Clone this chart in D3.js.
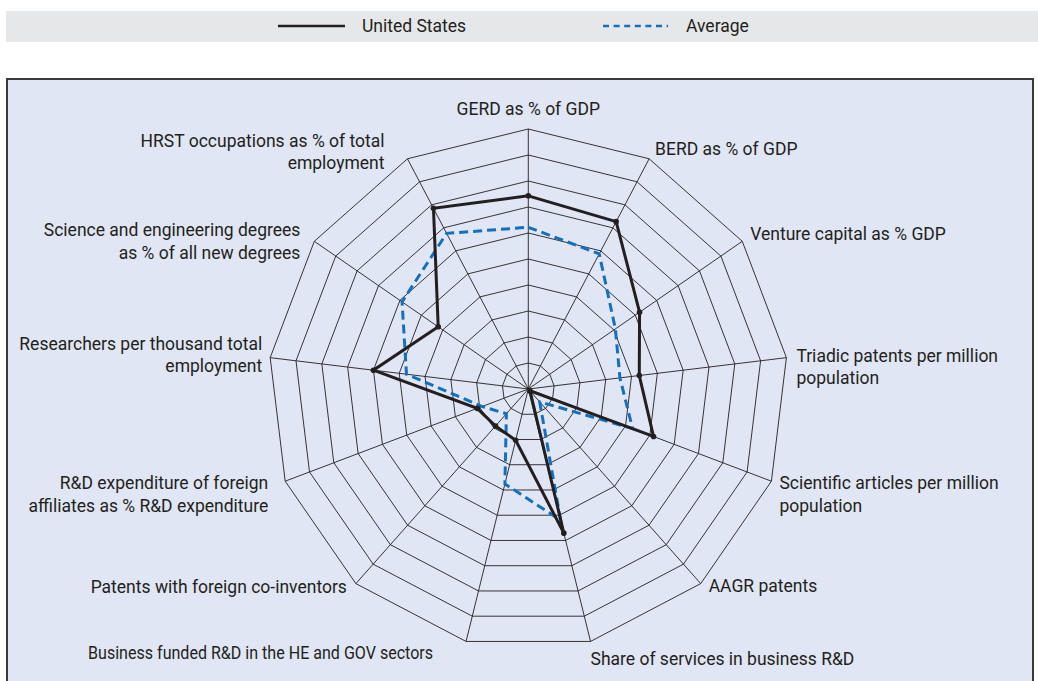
<!DOCTYPE html>
<html>
<head>
<meta charset="utf-8">
<script src="https://cdn.jsdelivr.net/npm/d3@7"></script>
<style>
  body { margin: 0; background: #fff; }
  svg { display: block; }
  text { font-family: Roboto, "Liberation Sans", sans-serif; fill: #231f20; }
</style>
</head>
<body>
<div id="chart"></div>
<script>
// indicator names, one entry per spoke (clockwise from top), split into lines
var indicators = [
    ["GERD as % of GDP"],
    ["BERD as % of GDP"],
    ["Venture capital as % GDP"],
    ["Triadic patents per million", "population"],
    ["Scientific articles per million", "population"],
    ["AAGR patents"],
    ["Share of services in business R&D"],
    ["Business funded R&D in the HE and GOV sectors"],
    ["Patents with foreign co-inventors"],
    ["R&D expenditure of foreign", "affiliates as % R&D expenditure"],
    ["Researchers per thousand total", "employment"],
    ["Science and engineering degrees", "as % of all new degrees"],
    ["HRST occupations as % of total", "employment"]
];
var seriesNames = ["United States", "Average"];
var unitedStates = [7.43, 7.27, 5.2, 4.3, 5.15, 0.1, 5.71, 2.03, 1.9, 2.1, 6.0, 4.21, 7.85];
var average = [6.22, 5.87, 4.07, 3.55, 4.29, 0.66, 5.2, 3.76, 1.27, 1.9, 4.72, 5.9, 6.76];
var ringLevels = [1, 2, 3, 4, 5, 6, 7, 8, 9, 10];

// layout: nudge of each label's first line from the outer vertex [dx, dy, anchor]
var labelNudge = [
    [0, -20, "middle"], [6, -10, "start"], [8, -7, "start"], [10, -2, "start"],
    [8, 2, "start"], [8, 2, "start"], [0, 17, "start"], [-33, 11, "end"],
    [-9, 3, "end"], [-17, 2, "end"], [-8, -14, "end"], [-14, -11, "end"],
    [-23, -18, "end"]
];

var width = 1038, height = 681;
var cx = 528.3, cy = 389, radius = 260;
var ink = "#231f20", blue = "#1470bd";

var svg = d3.select("#chart")
    .append("svg")
    .attr("width", width)
    .attr("height", height);

// legend band
svg.append("rect")
    .attr("x", 6).attr("y", 11)
    .attr("width", width - 6).attr("height", 31)
    .attr("fill", "#e6e7e8");

var legend = svg.append("g").attr("transform", "translate(0,26)");
legend.append("line")
    .attr("x1", 278).attr("x2", 345)
    .attr("stroke", ink).attr("stroke-width", 2.6);
legend.append("text")
    .attr("x", 362).attr("dy", "0.35em")
    .style("font-size", "17.5px")
    .text(seriesNames[0]);
legend.append("line")
    .attr("x1", 603).attr("x2", 668)
    .attr("stroke", blue).attr("stroke-width", 2.6)
    .attr("stroke-dasharray", "6,4.6");
legend.append("text")
    .attr("x", 686).attr("dy", "0.35em")
    .style("font-size", "17.5px")
    .text(seriesNames[1]);

// chart frame
svg.append("rect")
    .attr("x", 7).attr("y", 79)
    .attr("width", 1026).attr("height", 610)
    .attr("fill", "#e0e6f4")
    .attr("stroke", "#3a3a3a")
    .attr("stroke-width", 2);

var angle = d3.scaleLinear()
    .domain([0, indicators.length])
    .range([0, 2 * Math.PI]);
var r = d3.scaleLinear()
    .domain([0, 10])
    .range([0, radius]);

var g = svg.append("g").attr("transform", `translate(${cx},${cy})`);

var radar = d3.lineRadial()
    .angle((d, i) => angle(i))
    .radius(d => r(d))
    .curve(d3.curveLinearClosed);

// web rings
g.selectAll(".ring")
    .data(ringLevels)
    .join("path")
    .attr("class", "ring")
    .attr("d", k => radar(indicators.map(() => k)))
    .attr("fill", "none")
    .attr("stroke", ink)
    .attr("stroke-width", 0.9);

// spokes
var point = (i, v) => [Math.sin(angle(i)) * r(v), -Math.cos(angle(i)) * r(v)];
g.selectAll(".spoke")
    .data(indicators)
    .join("line")
    .attr("class", "spoke")
    .attr("x1", 0).attr("y1", 0)
    .attr("x2", (d, i) => point(i, 10)[0])
    .attr("y2", (d, i) => point(i, 10)[1])
    .attr("stroke", ink)
    .attr("stroke-width", 0.9);

// axis labels
g.selectAll(".label")
    .data(indicators)
    .join("text")
    .attr("class", "label")
    .attr("x", (d, i) => point(i, 10)[0] + labelNudge[i][0])
    .attr("y", (d, i) => point(i, 10)[1] + labelNudge[i][1])
    .attr("text-anchor", (d, i) => labelNudge[i][2])
    .style("font-size", "17.5px")
    .each(function(lines) {
        var t = d3.select(this);
        var x = t.attr("x");
        lines.forEach((line, j) => {
            t.append("tspan")
                .attr("x", x)
                .attr("dy", j === 0 ? "0.35em" : "22.5px")
                .text(line);
        });
    });

// the long bottom-left label is set tighter in the original
g.selectAll(".label").filter((d, i) => i === 7)
    .attr("textLength", 345)
    .attr("lengthAdjust", "spacingAndGlyphs");

// average series
g.append("path")
    .datum(average)
    .attr("d", radar)
    .attr("fill", "none")
    .attr("stroke", blue)
    .attr("stroke-width", 3)
    .attr("stroke-dasharray", "9,5");

// united states series
g.append("path")
    .datum(unitedStates)
    .attr("d", radar)
    .attr("fill", "none")
    .attr("stroke", ink)
    .attr("stroke-width", 3)
    .attr("stroke-linejoin", "miter");

g.selectAll(".dot")
    .data(unitedStates)
    .join("circle")
    .attr("class", "dot")
    .attr("cx", (d, i) => point(i, d)[0])
    .attr("cy", (d, i) => point(i, d)[1])
    .attr("r", 2.8)
    .attr("fill", ink);
</script>
</body>
</html>
